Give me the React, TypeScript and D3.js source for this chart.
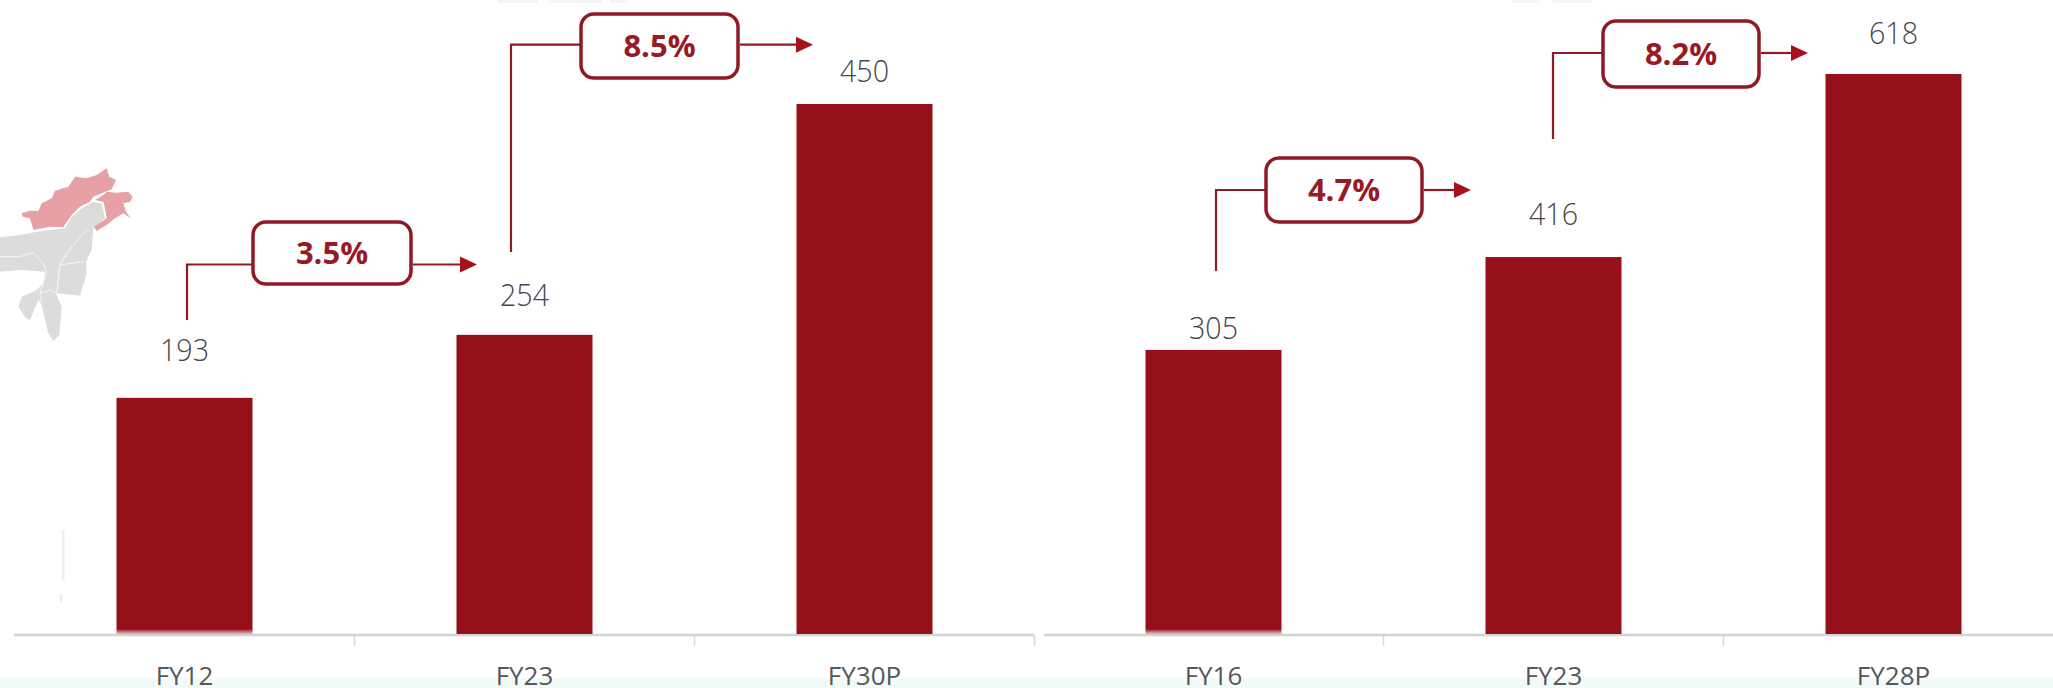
import React from "react";
import * as d3 from "d3";

const leftCategories = ["FY12", "FY23", "FY30P"];
const leftLabels = ["193", "254", "450"];
// bar lengths as drawn in the picture (the first bar is drawn a little taller than its label)
const leftPlotted = [200.5, 254, 450];
const rightCategories = ["FY16", "FY23", "FY28P"];
const rightLabels = ["305", "416", "618"];
const rightPlotted = [313.5, 416, 618];
const growthLabels = ["3.5%", "8.5%", "4.7%", "8.2%"];

const W = 2053, H = 688;
const BASE = 634;
const BAR = "#96101a", BOX = "#8e1a26", TXT = "#971a25", ARROW = "#a5121c", NUM = "#45484b", CAT = "#55585c", AXIS = "#d2d3d3";
const FONT = "'Open Sans', sans-serif";

const xL = d3.scaleBand<string>().domain(leftCategories).range([14.5, 1034.5]).paddingInner(0.6).paddingOuter(0.3);
const xR = d3.scaleBand<string>().domain(rightCategories).range([1043.5, 2063.5]).paddingInner(0.6).paddingOuter(0.3);
const yL = d3.scaleLinear().domain([0, 450]).range([BASE, 104]);
const yR = d3.scaleLinear().domain([0, 618]).range([BASE, 74]);

const panels = [
  { x: xL, y: yL, cats: leftCategories, labels: leftLabels, plotted: leftPlotted, axis: [14, 1034], labelGap: [37, 29, 22] },
  { x: xR, y: yR, cats: rightCategories, labels: rightLabels, plotted: rightPlotted, axis: [1044, 2053], labelGap: [11, 32, 30] },
];

// growth callouts: box left/right/top/bottom, connector start x, connector bottom, arrow tip
const callouts = [
  { l: 253, r: 411, t: 222, b: 284, cy: 264.5, sx: 187, sb: 320, tip: 477 },
  { l: 581, r: 738, t: 14, b: 78, cy: 44.7, sx: 511, sb: 252, tip: 813 },
  { l: 1266, r: 1422, t: 158, b: 222, cy: 190, sx: 1216, sb: 271, tip: 1471 },
  { l: 1603, r: 1759, t: 21, b: 87, cy: 53, sx: 1553, sb: 139, tip: 1808 },
];

// decorative locator map, traced in a 3x crop
const mapPinkA = "65,190 90,182 115,183 125,160 155,145 165,122 205,110 225,80 260,85 290,75 320,55 328,80 348,90 335,118 305,130 280,140 270,155 240,170 215,195 190,232 150,230 100,240 90,205 68,200";
const mapPinkB = "320,125 350,128 385,125 398,140 390,155 370,160 378,185 392,205 370,190 345,205 320,225 290,243 282,230 320,205 315,175 310,155 285,150 310,135";
const mapGrey = "0,262 60,255 110,245 195,235 215,200 250,172 280,155 305,162 315,205 280,235 275,300 258,335 260,370 240,437 168,430 185,470 178,555 160,572 145,550 125,465 115,450 90,510 78,505 55,470 65,440 110,420 130,400 135,365 60,360 0,365";
const mapBorders = [
  "0,320 60,320 100,308 130,340 140,365 120,430 125,460",
  "170,430 180,340 215,290 260,240",
  "180,345 250,335",
  "120,430 150,420 170,430",
];
const topFragments = [[498, 538], [548, 602], [610, 628], [1512, 1540], [1553, 1592]];

export default function App() {
  return (
    <svg width={W} height={H} viewBox={`0 0 ${W} ${H}`} style={{ position: "absolute", left: 0, top: 0, display: "block", background: "#fff" }}>
      <defs>
        <linearGradient id="fade" x1="0" x2="0" y1="0" y2="1">
          <stop offset="0" stopColor={BAR} />
          <stop offset="1" stopColor={BAR} stopOpacity={0.25} />
        </linearGradient>
        <filter id="soft" x="-5%" y="-5%" width="110%" height="110%">
          <feGaussianBlur stdDeviation="2" />
        </filter>
      </defs>
      <rect x={0} y={678} width={W} height={10} fill="#f2fbf7" />
      {topFragments.map(([a, b], i) => (
        <rect key={i} x={a} y={0} width={b - a} height={3} fill="#f5f5f5" />
      ))}
      <g transform="translate(0,150) scale(0.3333)" filter="url(#soft)">
        <polygon points={mapGrey} fill="#dcdcdc" />
        <polygon points={mapPinkA} fill="#e6a0a6" />
        <polygon points={mapPinkB} fill="#e6a0a6" />
        {mapBorders.map((p, i) => (
          <polyline key={i} points={p} fill="none" stroke="#f6f6f6" strokeWidth={3} />
        ))}
      </g>
      <rect x={62} y={530} width={2.5} height={50} fill="#eeeeee" />
      <rect x={60} y={594} width={2} height={8} fill="#ececec" />

      {panels.map((p, pi) => (
        <g key={pi}>
          <line x1={p.axis[0]} x2={p.axis[1]} y1={635} y2={635} stroke={AXIS} strokeWidth={2.5} />
          {p.cats.map((c, i) => {
            const x0 = p.x(c)!;
            const bw = p.x.bandwidth();
            const cx = x0 + bw / 2;
            const top = p.y(p.plotted[i]);
            const faded = i === 0;
            const tickX = cx + p.x.step() / 2;
            return (
              <g key={c}>
                <rect x={x0} y={top} width={bw} height={BASE - top - (faded ? 5 : 0)} fill={BAR} />
                {faded && <rect x={x0} y={BASE - 5} width={bw} height={5} fill="url(#fade)" />}
                <line x1={tickX} x2={tickX} y1={635} y2={646} stroke="#d8d8d8" strokeWidth={1.5} />
                <text x={cx} y={top - p.labelGap[i]} textAnchor="middle" fontFamily={FONT} fontSize={32} fontWeight={300} fill={NUM} textLength={49} lengthAdjust="spacingAndGlyphs">{p.labels[i]}</text>
                <text x={cx} y={685} textAnchor="middle" fontFamily={FONT} fontSize={26} fontWeight={400} fill={CAT}>{c}</text>
              </g>
            );
          })}
        </g>
      ))}

      {callouts.map((c, i) => {
        const path = d3.path();
        path.moveTo(c.sx, c.sb);
        path.lineTo(c.sx, c.cy);
        path.lineTo(c.l, c.cy);
        const head = c.tip - 17;
        return (
          <g key={i}>
            <path d={path.toString()} fill="none" stroke={BOX} strokeWidth={2.2} />
            <rect x={c.l} y={c.t} width={c.r - c.l} height={c.b - c.t} rx={13} fill="#fff" stroke={BOX} strokeWidth={3.5} />
            <line x1={c.r + 2} x2={head} y1={c.cy} y2={c.cy} stroke={BOX} strokeWidth={2.2} />
            <polygon points={`${head},${c.cy - 8} ${c.tip},${c.cy} ${head},${c.cy + 8}`} fill={ARROW} />
            <text x={(c.l + c.r) / 2} y={(c.t + c.b) / 2 + 11} textAnchor="middle" fontFamily={FONT} fontSize={31} fontWeight={700} fill={TXT}>{growthLabels[i]}</text>
          </g>
        );
      })}
    </svg>
  );
}
